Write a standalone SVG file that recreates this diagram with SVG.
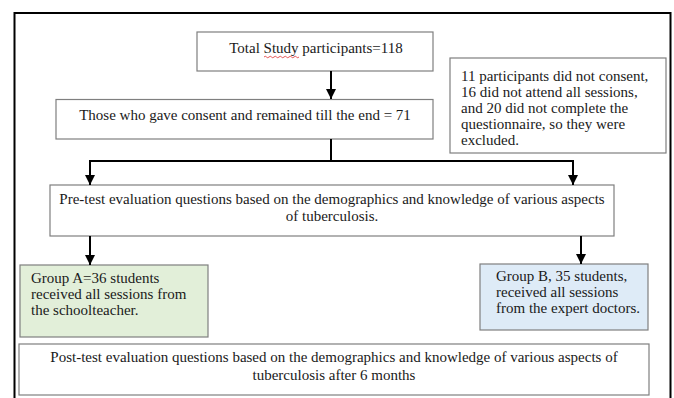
<svg xmlns="http://www.w3.org/2000/svg" width="674" height="398" viewBox="0 0 674 398">
<defs>
<style>
.box{fill:#ffffff;stroke:#7f7f7f;stroke-width:1.2}
.ga{fill:#e2efd9;stroke:#7f7f7f;stroke-width:1.2}
.gb{fill:#deebf7;stroke:#7f7f7f;stroke-width:1.2}
.t{font-family:"Liberation Serif","Times New Roman",serif;font-size:15px;fill:#1a1a1a}
.c{text-anchor:middle}
.ln{fill:none;stroke:#000;stroke-width:2}
</style>
<marker id="ah" viewBox="0 0 10 10" refX="10" refY="5" markerWidth="5" markerHeight="5" orient="auto" markerUnits="strokeWidth">
<path d="M0,0 L10,5 L0,10 z" fill="#000"/>
</marker>
</defs>
<rect width="674" height="398" fill="#fff"/>
<rect x="14.5" y="13" width="656" height="400" fill="none" stroke="#000" stroke-width="2"/>

<g id="total">
<rect class="box" x="197" y="32" width="236" height="39"/>
<text class="t c" x="316" y="53">Total Study participants=118</text>
<path d="M264,57 q1.25,-1.5 2.5,0 t2.5,0 t2.5,0 t2.5,0 t2.5,0 t2.5,0 t2.5,0 t2.5,0 t2.5,0 t2.5,0 t2.5,0 t2.5,0 t2.5,0 t2.5,0" fill="none" stroke="#e03030" stroke-width="0.8"/>
</g>

<g id="consent">
<rect class="box" x="56" y="99.5" width="377" height="39.5"/>
<text class="t c" x="245" y="120">Those who gave consent and remained till the end = 71</text>
</g>

<g id="excluded">
<rect class="box" x="450" y="58" width="216" height="95"/>
<text class="t" x="461" y="81">11 participants did not consent,</text>
<text class="t" x="461" y="97">16 did not attend all sessions,</text>
<text class="t" x="461" y="113">and 20 did not complete the</text>
<text class="t" x="461" y="129">questionnaire, so they were</text>
<text class="t" x="461" y="145">excluded.</text>
</g>

<g id="pretest">
<rect class="box" x="50" y="185" width="564" height="51"/>
<text class="t c" x="332" y="204">Pre-test evaluation questions based on the demographics and knowledge of various aspects</text>
<text class="t c" x="332" y="221">of tuberculosis.</text>
</g>

<g id="groupA">
<rect class="ga" x="20" y="265" width="188" height="72"/>
<text class="t" x="31" y="283">Group A=36 students</text>
<text class="t" x="31" y="299">received all sessions from</text>
<text class="t" x="31" y="315">the schoolteacher.</text>
</g>

<g id="groupB">
<rect class="gb" x="480" y="264" width="168" height="66"/>
<text class="t" x="496" y="281">Group B, 35 students,</text>
<text class="t" x="496" y="297">received all sessions</text>
<text class="t" x="496" y="313">from the expert doctors.</text>
</g>

<g id="posttest">
<rect class="box" x="19" y="344" width="630" height="51"/>
<text class="t c" x="334" y="362">Post-test evaluation questions based on the demographics and knowledge of various aspects of</text>
<text class="t c" x="334" y="380">tuberculosis after 6 months</text>
</g>

<g id="connectors">
<path class="ln" d="M331,71 V99" marker-end="url(#ah)"/>
<path class="ln" d="M331,139 V161 M90,161 H573"/>
<path class="ln" d="M90,160 V185" marker-end="url(#ah)"/>
<path class="ln" d="M573,160 V185" marker-end="url(#ah)"/>
<path class="ln" d="M90,236 V265" marker-end="url(#ah)"/>
<path class="ln" d="M581,236 V264" marker-end="url(#ah)"/>
</g>
</svg>
